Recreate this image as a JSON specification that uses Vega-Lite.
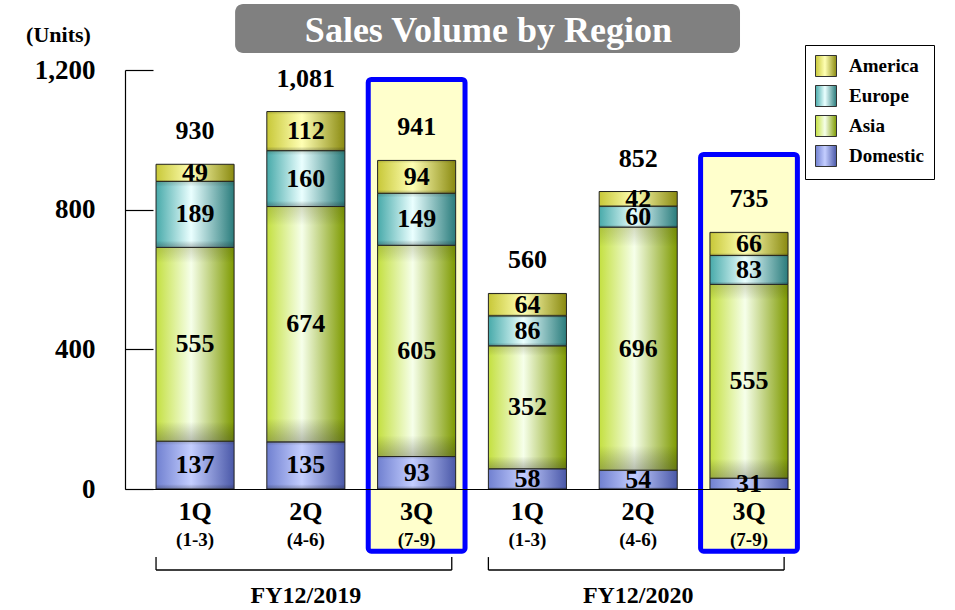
{
  "$schema": "https://vega.github.io/schema/vega-lite/v6.json",
  "width": 665,
  "height": 419,
  "autosize": {"type": "none"},
  "padding": {"left": 125, "top": 70, "right": 165, "bottom": 121},
  "background": "white",
  "config": {
    "view": {"stroke": null},
    "font": "Liberation Serif",
    "text": {"font": "Liberation Serif", "fontWeight": "bold", "color": "black"},
    "axisX": {"labels": false, "ticks": false, "domainColor": "black", "domainWidth": 1.2},
    "axisY": {
      "domainColor": "black", "domainWidth": 1.2, "tickColor": "black", "tickWidth": 1.2,
      "tickSize": -28, "labelPadding": 58, "grid": false,
      "labelFont": "Liberation Serif", "labelFontWeight": "bold", "labelFontSize": 27, "labelColor": "black",
      "titleFont": "Liberation Serif", "titleFontWeight": "bold", "titleFontSize": 22, "titleColor": "black",
      "titleAngle": 0, "titleX": -67, "titleY": -36, "titleAlign": "center", "titleBaseline": "middle"
    },
    "legend": {
      "labelFont": "Liberation Serif", "labelFontWeight": "bold", "labelFontSize": 19, "labelColor": "black"
    }
  },
  "datasets": {
    "sales": [
      {"bar": "2019-1Q", "region": "Domestic", "k": 1, "value": 137},
      {"bar": "2019-1Q", "region": "Asia", "k": 2, "value": 555},
      {"bar": "2019-1Q", "region": "Europe", "k": 3, "value": 189},
      {"bar": "2019-1Q", "region": "America", "k": 4, "value": 49},
      {"bar": "2019-2Q", "region": "Domestic", "k": 1, "value": 135},
      {"bar": "2019-2Q", "region": "Asia", "k": 2, "value": 674},
      {"bar": "2019-2Q", "region": "Europe", "k": 3, "value": 160},
      {"bar": "2019-2Q", "region": "America", "k": 4, "value": 112},
      {"bar": "2019-3Q", "region": "Domestic", "k": 1, "value": 93},
      {"bar": "2019-3Q", "region": "Asia", "k": 2, "value": 605},
      {"bar": "2019-3Q", "region": "Europe", "k": 3, "value": 149},
      {"bar": "2019-3Q", "region": "America", "k": 4, "value": 94},
      {"bar": "2020-1Q", "region": "Domestic", "k": 1, "value": 58},
      {"bar": "2020-1Q", "region": "Asia", "k": 2, "value": 352},
      {"bar": "2020-1Q", "region": "Europe", "k": 3, "value": 86},
      {"bar": "2020-1Q", "region": "America", "k": 4, "value": 64},
      {"bar": "2020-2Q", "region": "Domestic", "k": 1, "value": 54},
      {"bar": "2020-2Q", "region": "Asia", "k": 2, "value": 696},
      {"bar": "2020-2Q", "region": "Europe", "k": 3, "value": 60},
      {"bar": "2020-2Q", "region": "America", "k": 4, "value": 42},
      {"bar": "2020-3Q", "region": "Domestic", "k": 1, "value": 31},
      {"bar": "2020-3Q", "region": "Asia", "k": 2, "value": 555},
      {"bar": "2020-3Q", "region": "Europe", "k": 3, "value": 83},
      {"bar": "2020-3Q", "region": "America", "k": 4, "value": 66}
    ],
    "periods": [
      {"bar": "2019-1Q", "q": "1Q", "m": "(1-3)"},
      {"bar": "2019-2Q", "q": "2Q", "m": "(4-6)"},
      {"bar": "2019-3Q", "q": "3Q", "m": "(7-9)"},
      {"bar": "2020-1Q", "q": "1Q", "m": "(1-3)"},
      {"bar": "2020-2Q", "q": "2Q", "m": "(4-6)"},
      {"bar": "2020-3Q", "q": "3Q", "m": "(7-9)"}
    ],
    "groups": [
      {"fy": "FY12/2019", "first": "2019-1Q", "mid": "2019-2Q", "last": "2019-3Q"},
      {"fy": "FY12/2020", "first": "2020-1Q", "mid": "2020-2Q", "last": "2020-3Q"}
    ]
  },
  "layer": [
    {
      "data": {"values": [{"title": "Sales Volume by Region"}]},
      "mark": {"type": "rect", "fill": "#808080", "cornerRadius": 8},
      "encoding": {
        "x": {"datum": "2019-1Q", "type": "nominal", "bandPosition": 1.013, "axis": {"title": null}},
        "x2": {"datum": "2020-3Q", "bandPosition": 0.385},
        "y": {"datum": 1389, "type": "quantitative"},
        "y2": {"datum": 1249}
      }
    },
    {
      "data": {"values": [{"title": "Sales Volume by Region"}]},
      "mark": {"type": "text", "color": "white", "fontSize": 36, "baseline": "middle", "align": "center"},
      "encoding": {
        "x": {"datum": "2020-1Q", "type": "nominal", "bandPosition": 0},
        "y": {"datum": 1313, "type": "quantitative"},
        "text": {"field": "title"}
      }
    },
    {
      "data": {"name": "periods"},
      "transform": [{"filter": "datum.bar === '2019-3Q'"}],
      "mark": {"type": "bar", "fill": "#FFFFCC", "stroke": "#0000FF", "strokeWidth": 5, "cornerRadius": 3, "width": {"band": 1.24}},
      "encoding": {
        "x": {"field": "bar", "type": "nominal"},
        "y": {"datum": 1173, "type": "quantitative"},
        "y2": {"datum": -178}
      }
    },
    {
      "data": {"name": "periods"},
      "transform": [{"filter": "datum.bar === '2020-3Q'"}],
      "mark": {"type": "bar", "fill": "#FFFFCC", "stroke": "#0000FF", "strokeWidth": 5, "cornerRadius": 3, "width": {"band": 1.24}},
      "encoding": {
        "x": {"field": "bar", "type": "nominal"},
        "y": {"datum": 958, "type": "quantitative"},
        "y2": {"datum": -178}
      }
    },
    {
      "data": {"name": "sales"},
      "mark": {"type": "bar", "stroke": "#222222", "strokeWidth": 1},
      "encoding": {
        "x": {
          "field": "bar", "type": "nominal",
          "scale": {"paddingInner": 0.2954, "paddingOuter": 0.149, "align": 0.94},
          "axis": {"title": null}
        },
        "y": {
          "field": "value", "type": "quantitative", "stack": "zero",
          "scale": {"domain": [0, 1200], "nice": false},
          "axis": {"title": "(Units)", "values": [0, 400, 800, 1200], "labelExpr": "format(datum.value, ',')"}
        },
        "order": {"field": "k", "sort": "ascending"},
        "color": {
          "field": "region", "type": "nominal",
          "scale": {
            "domain": ["America", "Europe", "Asia", "Domestic"],
            "range": [
              {"expr": "{gradient: 'linear', x1: 0, y1: 0, x2: 1, y2: 0, stops: [{offset: 0, color: '#C8C838'}, {offset: 0.45, color: '#FFFFB4'}, {offset: 1, color: '#8A8A10'}]}"},
              {"expr": "{gradient: 'linear', x1: 0, y1: 0, x2: 1, y2: 0, stops: [{offset: 0, color: '#48AAAA'}, {offset: 0.45, color: '#EAFFFF'}, {offset: 1, color: '#2A7C7C'}]}"},
              {"expr": "{gradient: 'linear', x1: 0, y1: 0, x2: 1, y2: 0, stops: [{offset: 0, color: '#C4E040'}, {offset: 0.45, color: '#F6FFEA'}, {offset: 1, color: '#7E9A00'}]}"},
              {"expr": "{gradient: 'linear', x1: 0, y1: 0, x2: 1, y2: 0, stops: [{offset: 0, color: '#7080D0'}, {offset: 0.45, color: '#C4CEFF'}, {offset: 1, color: '#4A58A8'}]}"}
            ]
          },
          "legend": {
            "title": "\u00a0\u00a0\u00a0\u00a0\u00a0", "titleOrient": "right", "titlePadding": 0, "titleFontSize": 19,
            "orient": "none", "legendX": 680, "legendY": -25,
            "strokeColor": "black", "fillColor": "white", "padding": 10,
            "symbolType": "square", "symbolSize": 441, "symbolStrokeColor": "#333333", "symbolStrokeWidth": 1,
            "symbolOpacity": 1,
            "labelOffset": 12, "rowPadding": 4
          }
        }
      }
    },
    {
      "data": {"name": "sales"},
      "mark": {"type": "bar", "strokeWidth": 0},
      "encoding": {
        "x": {"field": "bar", "type": "nominal"},
        "y": {"field": "value", "type": "quantitative", "stack": "zero"},
        "order": {"field": "k", "sort": "ascending"},
        "detail": {"field": "region"},
        "color": {"value": {"gradient": "linear", "x1": 0, "y1": 0, "x2": 0, "y2": 1, "stops": [{"offset": 0, "color": "rgba(60,60,0,0.18)"}, {"offset": 0.08, "color": "rgba(0,0,0,0)"}, {"offset": 0.9, "color": "rgba(0,0,0,0)"}, {"offset": 1, "color": "rgba(40,40,40,0.3)"}]}}
      }
    },
    {
      "data": {"name": "sales"},
      "mark": {"type": "text", "fontSize": 26, "baseline": "middle", "align": "center"},
      "encoding": {
        "x": {"field": "bar", "type": "nominal"},
        "y": {"field": "value", "type": "quantitative", "stack": "zero", "bandPosition": 0.5},
        "order": {"field": "k", "sort": "ascending"},
        "detail": {"field": "region"},
        "text": {"field": "value", "type": "quantitative"}
      }
    },
    {
      "data": {"name": "sales"},
      "mark": {"type": "text", "fontSize": 26, "baseline": "middle", "align": "center", "dy": -33},
      "encoding": {
        "x": {"field": "bar", "type": "nominal"},
        "y": {"aggregate": "sum", "field": "value", "type": "quantitative"},
        "text": {"aggregate": "sum", "field": "value", "type": "quantitative", "format": ","}
      }
    },
    {
      "data": {"name": "periods"},
      "mark": {"type": "text", "fontSize": 26, "baseline": "middle", "align": "center"},
      "encoding": {
        "x": {"field": "bar", "type": "nominal"},
        "y": {"datum": -66, "type": "quantitative"},
        "text": {"field": "q"}
      }
    },
    {
      "data": {"name": "periods"},
      "mark": {"type": "text", "fontSize": 19, "baseline": "middle", "align": "center"},
      "encoding": {
        "x": {"field": "bar", "type": "nominal"},
        "y": {"datum": -146, "type": "quantitative"},
        "text": {"field": "m"}
      }
    },
    {
      "data": {"name": "groups"},
      "mark": {"type": "rule", "color": "black", "strokeWidth": 1.3},
      "encoding": {
        "x": {"field": "first", "type": "nominal", "bandPosition": 0},
        "x2": {"field": "last", "bandPosition": 0.95},
        "y": {"datum": -232, "type": "quantitative"}
      }
    },
    {
      "data": {"name": "groups"},
      "mark": {"type": "rule", "color": "black", "strokeWidth": 1.3},
      "encoding": {
        "x": {"field": "first", "type": "nominal", "bandPosition": 0},
        "y": {"datum": -195, "type": "quantitative"},
        "y2": {"datum": -232}
      }
    },
    {
      "data": {"name": "groups"},
      "mark": {"type": "rule", "color": "black", "strokeWidth": 1.3},
      "encoding": {
        "x": {"field": "last", "type": "nominal", "bandPosition": 0.95},
        "y": {"datum": -195, "type": "quantitative"},
        "y2": {"datum": -232}
      }
    },
    {
      "data": {"name": "groups"},
      "mark": {"type": "text", "fontSize": 24, "baseline": "middle", "align": "center"},
      "encoding": {
        "x": {"field": "mid", "type": "nominal"},
        "y": {"datum": -306, "type": "quantitative"},
        "text": {"field": "fy"}
      }
    }
  ]
}
